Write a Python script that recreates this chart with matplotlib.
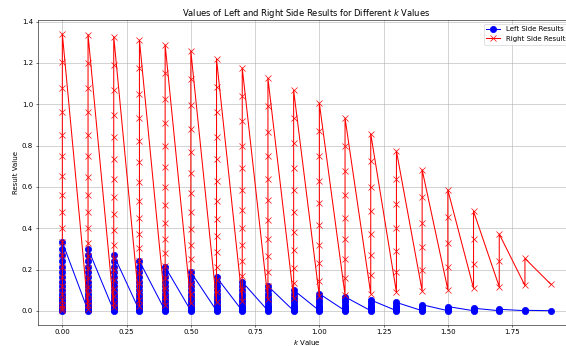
import numpy as np
import matplotlib
matplotlib.use('Agg')
import matplotlib.pyplot as plt

# k values (one column of points per k)
k_values = [0.0, 0.1, 0.2, 0.3, 0.4, 0.5, 0.6, 0.7, 0.8, 0.9,
            1.0, 1.1, 1.2, 1.3, 1.4, 1.5, 1.6, 1.7, 1.8, 1.9]

# left side results, per k (top to bottom)
left_full = [0.333, 0.301, 0.270, 0.241, 0.213, 0.188, 0.163, 0.141, 0.120, 0.101,
             0.083, 0.068, 0.053, 0.041, 0.030, 0.021, 0.013, 0.008, 0.003, 0.001]
left_results = [left_full[i:] for i in range(20)]

# right side results, per k (top to bottom)
right_results = [
    [1.340, 1.203, 1.080, 0.963, 0.853, 0.750, 0.653, 0.563, 0.480, 0.403,
     0.333, 0.270, 0.213, 0.163, 0.120, 0.083, 0.053, 0.030, 0.013, 0.003],
    [1.337, 1.200, 1.077, 0.960, 0.850, 0.747, 0.650, 0.560, 0.477, 0.400,
     0.330, 0.267, 0.210, 0.160, 0.117, 0.080, 0.050, 0.027, 0.010],
    [1.327, 1.190, 1.067, 0.950, 0.840, 0.737, 0.640, 0.550, 0.467, 0.390,
     0.320, 0.257, 0.200, 0.150, 0.107, 0.070, 0.040, 0.017],
    [1.310, 1.173, 1.050, 0.933, 0.823, 0.720, 0.623, 0.533, 0.450, 0.373,
     0.303, 0.240, 0.183, 0.133, 0.090, 0.053, 0.023],
    [1.287, 1.150, 1.027, 0.910, 0.800, 0.697, 0.600, 0.510, 0.427, 0.350,
     0.280, 0.217, 0.160, 0.110, 0.067, 0.030],
    [1.257, 1.120, 0.997, 0.880, 0.770, 0.667, 0.570, 0.480, 0.397, 0.320,
     0.250, 0.187, 0.130, 0.080, 0.037],
    [1.218, 1.083, 0.960, 0.843, 0.733, 0.630, 0.533, 0.443, 0.360, 0.283,
     0.213, 0.150, 0.093, 0.043],
    [1.175, 1.040, 0.917, 0.800, 0.690, 0.587, 0.490, 0.400, 0.317, 0.240,
     0.170, 0.107, 0.050],
    [1.125, 0.990, 0.867, 0.750, 0.640, 0.537, 0.440, 0.350, 0.267, 0.190,
     0.120, 0.057],
    [1.067, 0.933, 0.810, 0.693, 0.583, 0.480, 0.383, 0.293, 0.210, 0.133,
     0.063],
    [1.005, 0.870, 0.747, 0.630, 0.520, 0.417, 0.320, 0.230, 0.147, 0.070],
    [0.933, 0.800, 0.677, 0.560, 0.450, 0.347, 0.250, 0.160, 0.077],
    [0.857, 0.723, 0.600, 0.483, 0.373, 0.270, 0.173, 0.083],
    [0.773, 0.640, 0.517, 0.400, 0.290, 0.187, 0.090],
    [0.683, 0.550, 0.427, 0.310, 0.200, 0.097],
    [0.585, 0.453, 0.330, 0.213, 0.103],
    [0.482, 0.350, 0.227, 0.110],
    [0.372, 0.240, 0.117],
    [0.254, 0.123],
    [0.130],
]

# flatten: every point of a column sits at its k value,
# each column is walked from bottom to top before moving to the next k
x_left = np.concatenate([[k] * len(v) for k, v in zip(k_values, left_results)])
y_left = np.concatenate([v[::-1] for v in left_results])
x_right = np.concatenate([[k] * len(v) for k, v in zip(k_values, right_results)])
y_right = np.concatenate([v[::-1] for v in right_results])

fig, ax = plt.subplots(figsize=(11.32, 6.92), dpi=50)
fig.subplots_adjust(left=0.067, right=1.016, bottom=0.062, top=0.942)

ax.plot(x_left, y_left, 'b', marker='o', markersize=9, label='Left Side Results')
ax.plot(x_right, y_right, 'r', marker='x', markersize=10, label='Right Side Results')

ax.set_title('Values of Left and Right Side Results for Different $k$ Values')
ax.set_xlabel('$k$ Value')
ax.set_ylabel('Result Value')
ax.set_xticks([0.0, 0.25, 0.5, 0.75, 1.0, 1.25, 1.5, 1.75])
ax.grid(True)
ax.legend(loc='upper right')

plt.savefig('out.png', dpi=50)
